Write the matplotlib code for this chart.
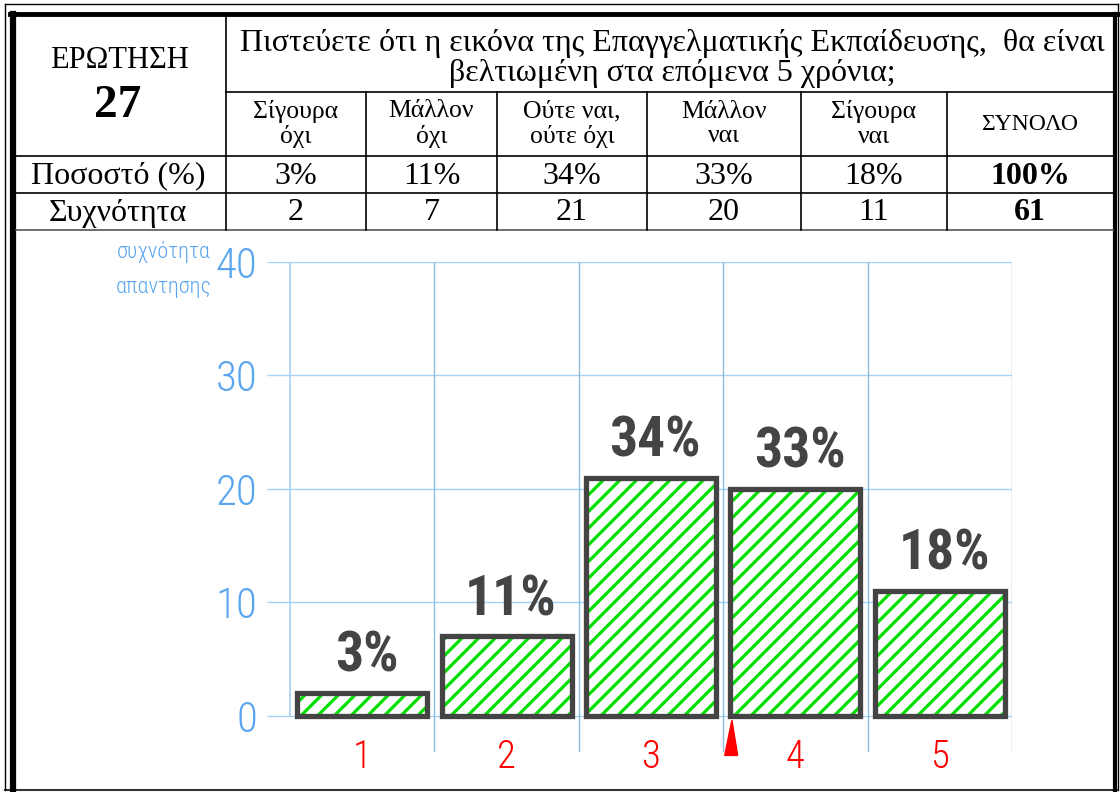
import numpy as np
import matplotlib.pyplot as plt
from matplotlib.patches import Polygon
from matplotlib.lines import Line2D

# answers to question 27
question_no = "27"
question = ["Πιστεύετε ότι η εικόνα της Επαγγελματικής Εκπαίδευσης,  θα είναι",
            "βελτιωμένη στα επόμενα 5 χρόνια;"]
answers = ["Σίγουρα\nόχι", "Μάλλον\nόχι", "Ούτε ναι,\nούτε όχι", "Μάλλον\nναι", "Σίγουρα\nναι"]
percent = [3, 11, 34, 33, 18]
freq = [2, 7, 21, 20, 11]
total_percent = 100
total_freq = 61
categories = [1, 2, 3, 4, 5]
yticks = [0, 10, 20, 30, 40]

W, H = 1120, 792
fig = plt.figure(figsize=(W / 100, H / 100), dpi=100)

def px(x, y):
    return x / W, 1 - y / H

def hline(x0, x1, y, lw=1.2, c="black"):
    fig.add_artist(Line2D([x0 / W, x1 / W], [1 - y / H, 1 - y / H], lw=lw, color=c))

def vline(x, y0, y1, lw=1.2, c="black"):
    fig.add_artist(Line2D([x / W, x / W], [1 - y0 / H, 1 - y1 / H], lw=lw, color=c))

serif = dict(family=["Liberation Serif", "DejaVu Serif"])
narrow = dict(family=["Roboto Condensed", "DejaVu Sans"], fontstretch="condensed")

# frame
hline(5, 1118, 4, lw=1.0)
hline(5, 1118, 790, lw=1.5, c="#333333")
vline(5, 4, 790, lw=1.0)
vline(1118, 4, 790, lw=1.0)
hline(10, 1118, 14, lw=3.5)
vline(13, 14, 790, lw=4.5)
vline(1115, 14, 790, lw=3.0)

# table grid
cols = [16, 226, 366, 497, 647, 801, 947, 1113]
hline(226, 1113, 92)
hline(16, 1113, 156)
hline(16, 1113, 193)
hline(16, 1113, 230, c="#555555")
vline(226, 14, 230)
for x in cols[2:-1]:
    vline(x, 92, 230)

big = 23
fig.text(*px(119, 60), "ΕΡΩΤΗΣΗ", fontsize=22, ha="center", va="center", **serif)
fig.text(*px(118, 106), question_no, fontsize=34, weight="bold", ha="center", va="center", **serif)
fig.text(*px(672, 43), question[0], fontsize=big, ha="center", va="center", **serif)
fig.text(*px(672, 74), question[1], fontsize=big, ha="center", va="center", **serif)

fig.text(*px(118, 176), "Ποσοστό (%)", fontsize=big, ha="center", va="center", **serif)
fig.text(*px(118, 213), "Συχνότητα", fontsize=big, ha="center", va="center", **serif)

for i, a in enumerate(answers):
    cx = (cols[i + 1] + cols[i + 2]) / 2
    fig.text(*px(cx, 124), a, fontsize=18.5, ha="center", va="center", linespacing=1.15, **serif)
    fig.text(*px(cx, 176), f"{percent[i]}%", fontsize=big, ha="center", va="center", **serif)
    fig.text(*px(cx, 213), str(freq[i]), fontsize=big, ha="center", va="center", **serif)

cx = (cols[-2] + cols[-1]) / 2
fig.text(*px(cx, 125), "ΣΥΝΟΛΟ", fontsize=17, ha="center", va="center", **serif)
fig.text(*px(cx, 176), f"{total_percent}%", fontsize=big, weight="bold", ha="center", va="center", **serif)
fig.text(*px(cx, 213), str(total_freq), fontsize=big, weight="bold", ha="center", va="center", **serif)

# bar chart
plt.rcParams["hatch.linewidth"] = 2.3
ax = fig.add_axes([267 / W, 1 - 752 / H, (1012 - 267) / W, (752 - 262) / H])
ax.set_xlim(0.34, 5.5)
ax.set_ylim(-3.2, 40)
for s in ax.spines.values():
    s.set_visible(False)

grid_c = "#a8cff5"
ax.hlines(yticks, 0.34, 5.5, color=grid_c, lw=1.0, zorder=0)
ax.vlines(0.5, 0, 40, color=grid_c, lw=1.2, zorder=0)
ax.vlines(np.arange(1.5, 6, 1), -3.2, 40, color="#8cbde0", lw=1.0, zorder=0)

ax.bar(categories, freq, width=0.9, facecolor="white", edgecolor="#00e000", hatch="//", lw=0, zorder=2)
ax.bar(categories, freq, width=0.9, facecolor="none", edgecolor="#444444", lw=3.8, zorder=3)

for x, f, p in zip(categories, freq, percent):
    ax.text(x + 0.03, f + 0.9, f"{p}%", fontsize=40, weight="bold", color="#444444",
            ha="center", va="bottom", **narrow)

# small red marker below the axis
ax.add_patch(Polygon([[3.51, -3.5], [3.6, -3.5], [3.56, -0.4]], closed=True,
                     color="red", clip_on=False, zorder=4))

ax.set_yticks(yticks)
ax.set_yticklabels([str(t) for t in yticks], fontsize=31, color="#5aa5f0", weight="light", **narrow)
ax.set_xticks(categories)
ax.set_xticklabels([str(c) for c in categories], fontsize=28, color="red", weight="light", **narrow)
ax.tick_params(axis="y", length=0, pad=7)
ax.tick_params(axis="x", length=0, pad=-10)

fig.text(*px(164, 252), "συχνότητα", fontsize=16, color="#5aa5f0", weight="light",
         ha="center", va="center", **narrow)
fig.text(*px(164, 288), "απαντησης", fontsize=16, color="#5aa5f0", weight="light",
         ha="center", va="center", **narrow)

plt.savefig("out.png", dpi=100)
